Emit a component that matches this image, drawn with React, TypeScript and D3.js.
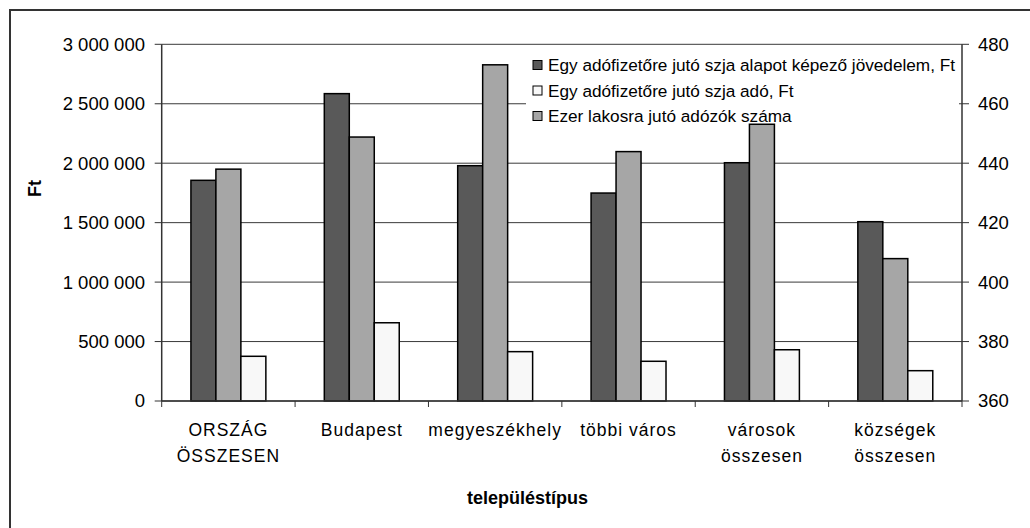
import React from "react";
import * as d3 from "d3";

const categories = ["ORSZÁG ÖSSZESEN", "Budapest", "megyeszékhely", "többi város", "városok összesen", "községek összesen"];
const categoryLines = [["ORSZÁG", "ÖSSZESEN"], ["Budapest"], ["megyeszékhely"], ["többi város"], ["városok", "összesen"], ["községek", "összesen"]];
const incomePerTaxpayer = [1856000, 2585000, 1979000, 1749000, 2004000, 1508000];
const taxPerTaxpayer = [376000, 658000, 415000, 334000, 431000, 255000];
const taxpayersPerThousand = [438.0, 448.8, 473.1, 443.9, 453.1, 407.9];
const leftTicks = [0, 500000, 1000000, 1500000, 2000000, 2500000, 3000000];
const rightTicks = [360, 380, 400, 420, 440, 460, 480];
const seriesNames = [
  "Egy adófizetőre jutó szja alapot képező jövedelem, Ft",
  "Egy adófizetőre jutó szja adó, Ft",
  "Ezer lakosra jutó adózók száma",
];
const seriesColors = ["#595959", "#f8f8f8", "#a6a6a6"];
const barSlots = ["income", "count", "tax"];

const W = 1030;
const H = 528;
const M = { left: 161.7, right: 962, top: 44.3, bottom: 401 };
const FONT = "'Liberation Sans', Arial, sans-serif";

export default function App() {
  const x0 = d3.scaleBand<string>().domain(categories).range([M.left, M.right]).padding(0);
  const x1 = d3.scaleBand<string>().domain(barSlots).range([0, x0.bandwidth()]).paddingInner(0).paddingOuter(1.17);
  const yL = d3.scaleLinear().domain([0, 3000000]).range([M.bottom, M.top]);
  const yR = d3.scaleLinear().domain([360, 480]).range([M.bottom, M.top]);
  const fmt = d3.formatLocale({ decimal: ",", thousands: "\u00a0", grouping: [3], currency: ["", ""] }).format(",d");

  const bars: { x: number; y: number; h: number; fill: string; key: string }[] = [];
  categories.forEach((c, i) => {
    const xb = x0(c)!;
    bars.push({ key: `i${i}`, x: xb + x1("income")!, y: yL(incomePerTaxpayer[i]), h: yL(0) - yL(incomePerTaxpayer[i]), fill: seriesColors[0] });
    bars.push({ key: `c${i}`, x: xb + x1("count")!, y: yR(taxpayersPerThousand[i]), h: yR(360) - yR(taxpayersPerThousand[i]), fill: seriesColors[2] });
    bars.push({ key: `t${i}`, x: xb + x1("tax")!, y: yL(taxPerTaxpayer[i]), h: yL(0) - yL(taxPerTaxpayer[i]), fill: seriesColors[1] });
  });
  const bw = x1.bandwidth();

  return (
    <svg width={W} height={H} style={{ position: "absolute", left: 0, top: 0, background: "#fff" }} fontFamily={FONT}>
      <rect x={0} y={0} width={W} height={H} fill="#fff" />
      <rect x={10} y={10} width={W} height={H} fill="none" stroke="#333" strokeWidth={2} />
      {/* gridlines */}
      {leftTicks.map((t) => (
        <line key={"g" + t} x1={M.left} x2={M.right} y1={yL(t)} y2={yL(t)} stroke="#3a3a3a" strokeWidth={1} />
      ))}
      {/* legend background */}
      <rect x={526} y={52} width={433} height={70} fill="#fff" />
      {/* bars */}
      {bars.map((b) => (
        <rect key={b.key} x={b.x} y={b.y} width={bw} height={b.h} fill={b.fill} stroke="#000" strokeWidth={1.5} />
      ))}
      {/* legend */}
      {[0, 1, 2].map((i) => (
        <g key={"l" + i} transform={`translate(533, ${65 + i * 25.5})`}>
          <rect x={0} y={-4.5} width={9} height={9} fill={seriesColors[i]} stroke="#000" strokeWidth={1} />
          <text x={15} y={0} dy="0.35em" fontSize={17.2} fill="#000">{seriesNames[i]}</text>
        </g>
      ))}
      {/* left axis */}
      <line x1={M.left} x2={M.left} y1={M.top} y2={M.bottom} stroke="#333" strokeWidth={1.5} />
      {leftTicks.map((t) => (
        <g key={"lt" + t}>
          <line x1={M.left - 7} x2={M.left} y1={yL(t)} y2={yL(t)} stroke="#333" />
          <text x={145} y={yL(t)} dy="0.35em" textAnchor="end" fontSize={18.5} fill="#000">{fmt(t)}</text>
        </g>
      ))}
      {/* right axis */}
      <line x1={M.right} x2={M.right} y1={M.top} y2={M.bottom} stroke="#333" strokeWidth={1.5} />
      {rightTicks.map((t) => (
        <g key={"rt" + t}>
          <line x1={M.right} x2={M.right + 7} y1={yR(t)} y2={yR(t)} stroke="#333" />
          <text x={978} y={yR(t)} dy="0.35em" fontSize={18.5} fill="#000">{t}</text>
        </g>
      ))}
      {/* bottom axis */}
      <line x1={M.left} x2={M.right} y1={M.bottom} y2={M.bottom} stroke="#333" strokeWidth={1.5} />
      {d3.range(categories.length + 1).map((i) => {
        const xx = M.left + i * x0.step();
        return <line key={"ct" + i} x1={xx} x2={xx} y1={M.bottom} y2={M.bottom + 6} stroke="#333" />;
      })}
      {categories.map((c, i) => (
        <text key={"cl" + i} x={x0(c)! + x0.bandwidth() / 2} y={436} textAnchor="middle" fontSize={17.5} fill="#000" letterSpacing={1}>
          {categoryLines[i].map((ln, j) => (
            <tspan key={j} x={x0(c)! + x0.bandwidth() / 2} y={436 + j * 25.7}>{ln}</tspan>
          ))}
        </text>
      ))}
      {/* axis titles */}
      <text x={527.5} y={504} textAnchor="middle" fontSize={18} fontWeight="bold" fill="#000">településtípus</text>
      <text transform="translate(41, 188.5) rotate(-90)" textAnchor="middle" fontSize={18} fontWeight="bold" fill="#000">Ft</text>
    </svg>
  );
}
